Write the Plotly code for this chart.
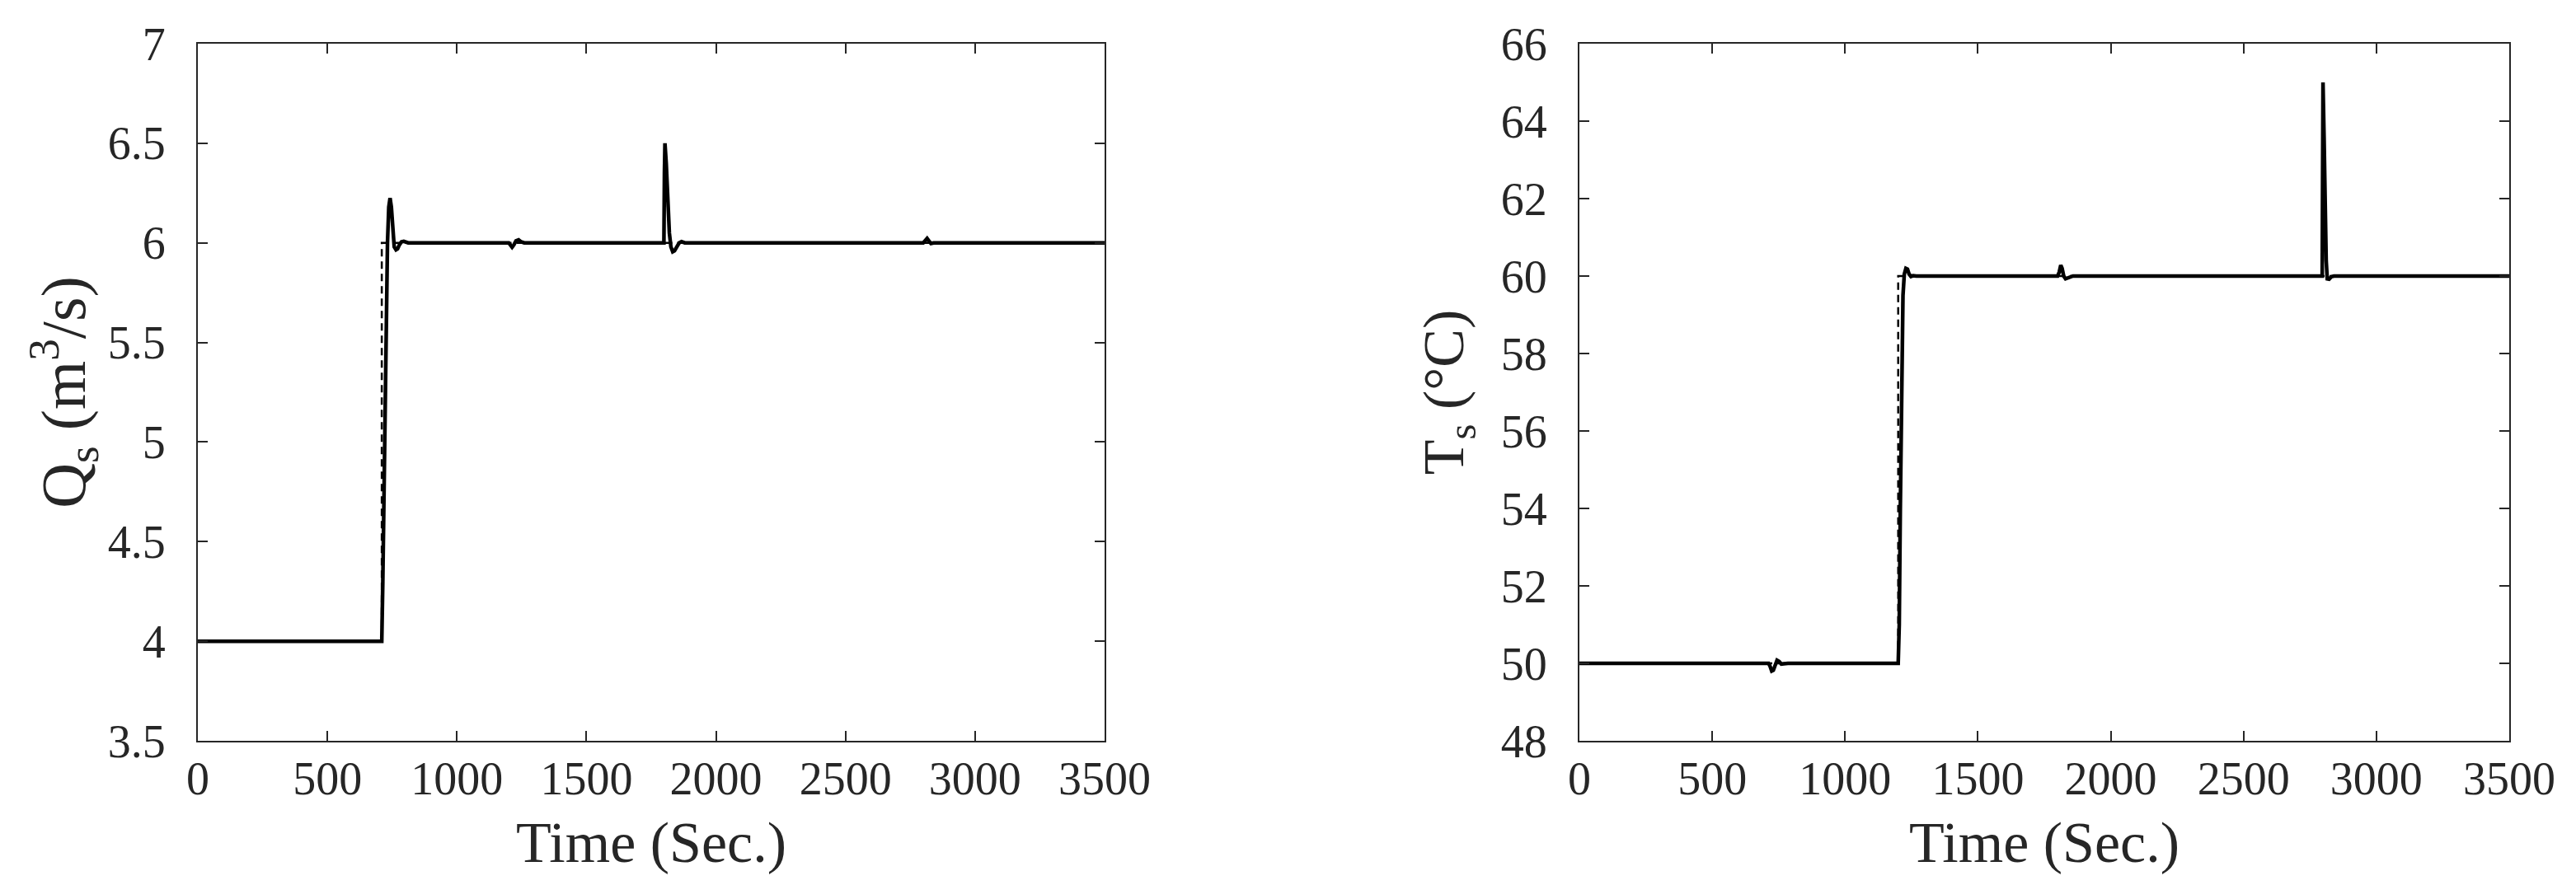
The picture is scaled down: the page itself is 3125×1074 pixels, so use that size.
import plotly.graph_objects as go
from plotly.subplots import make_subplots

# setpoints (dashed)
t_sp_q = [0, 710, 710, 3500]
q_sp = [4.0, 4.0, 6.0, 6.0]
t_sp_t = [0, 1200, 1200, 3500]
temp_sp = [50, 50, 60, 60]

# flow response Q_s (solid)
t_q = [0, 710, 714, 720, 726, 732, 737, 742, 747, 752, 758, 765, 771, 778, 786, 795, 803, 812,
       1200, 1206, 1213, 1220, 1228, 1238, 1248, 1260,
       1799, 1801, 1803, 1808, 1814, 1820, 1826, 1833, 1840, 1850, 1858, 1867, 1880,
       2800, 2808, 2815, 2822, 2830, 2840, 3500]
q_s = [4.0, 4.0, 4.3, 5.0, 5.6, 6.0, 6.18, 6.225, 6.18, 6.07, 5.98, 5.965, 5.97, 5.99, 6.005, 6.008, 6.002, 6.0,
       6.0, 5.99, 5.978, 5.99, 6.01, 6.015, 6.005, 6.0,
       6.0, 6.35, 6.5, 6.4, 6.22, 6.05, 5.98, 5.955, 5.96, 5.985, 6.0, 6.006, 6.0,
       6.0, 6.012, 6.022, 6.01, 5.997, 6.0, 6.0]

# temperature response T_s (solid)
t_t = [0, 712, 718, 724, 730, 737, 744, 752, 760, 770, 785,
       1200, 1204, 1208, 1213, 1218, 1223, 1229, 1235, 1241, 1248, 1256, 1268,
       1800, 1806, 1812, 1817, 1823, 1830, 1838, 1846, 1858,
       2796, 2799, 2803, 2807, 2811, 2815, 2822, 2830, 2840, 3500]
temp_s = [50, 50, 49.92, 49.8, 49.82, 49.97, 50.08, 50.05, 49.98, 49.99, 50,
          50, 51, 54, 57.5, 59.5, 60.05, 60.2, 60.18, 60.05, 59.99, 60.01, 60,
          60, 60.1, 60.28, 60.2, 60.0, 59.93, 59.95, 59.99, 60,
          60, 65.0, 63.6, 61.8, 60.4, 59.93, 59.92, 59.98, 60.0, 60]

W, H = 3125, 1074
off = 8  # page body margin
ink = "#262626"
font_fam = "Liberation Serif"

fig = make_subplots(rows=1, cols=2)

fig.add_trace(go.Scatter(x=t_sp_q, y=q_sp, mode="lines",
                         line=dict(color="black", width=2.5, dash="9px,6px")), row=1, col=1)
fig.add_trace(go.Scatter(x=t_q, y=q_s, mode="lines",
                         line=dict(color="black", width=4.5)), row=1, col=1)
fig.add_trace(go.Scatter(x=t_sp_t, y=temp_sp, mode="lines",
                         line=dict(color="black", width=2.5, dash="9px,6px")), row=1, col=2)
fig.add_trace(go.Scatter(x=t_t, y=temp_s, mode="lines",
                         line=dict(color="black", width=4.5)), row=1, col=2)

axis_style = dict(showline=True, linecolor=ink, linewidth=2, mirror="allticks",
                  ticks="inside", ticklen=12, tickwidth=2, tickcolor=ink,
                  showgrid=False, zeroline=False, automargin=False,
                  tickfont=dict(family=font_fam, size=56, color=ink))
title_font = dict(family=font_fam, size=70, color=ink)

fig.update_xaxes(**axis_style, range=[0, 3500], dtick=500, ticklabelstandoff=-4)
fig.update_yaxes(**axis_style, ticklabelstandoff=26)
fig.update_yaxes(range=[3.5, 7], dtick=0.5, row=1, col=1,
                 title=dict(text="Q<sub>s</sub> (m<sup>3</sup>/s)",
                            font=dict(title_font, size=76), standoff=0))
fig.update_yaxes(range=[48, 66], dtick=2, row=1, col=2,
                 title=dict(text="T<sub>s</sub> (°C)", font=title_font, standoff=22))

xd1 = [(240 - off) / W, (1340 - off) / W]
xd2 = [(1916 - off) / W, (3044 - off) / W]
y_dom = [1 - (899 - off) / H, 1 - (53 - off) / H]
title_y = 1 - (1022 - off) / H

for xd in (xd1, xd2):
    fig.add_annotation(text="Time (Sec.)", x=(xd[0] + xd[1]) / 2, y=title_y,
                       xref="paper", yref="paper", xanchor="center", yanchor="middle",
                       showarrow=False, font=title_font)

fig.update_layout(
    width=W, height=H, showlegend=False,
    margin=dict(l=0, r=0, t=0, b=0),
    plot_bgcolor="white", paper_bgcolor="white",
    xaxis=dict(domain=xd1),
    xaxis2=dict(domain=xd2),
    yaxis=dict(domain=y_dom),
    yaxis2=dict(domain=y_dom),
)

fig.write_html("out.html")
